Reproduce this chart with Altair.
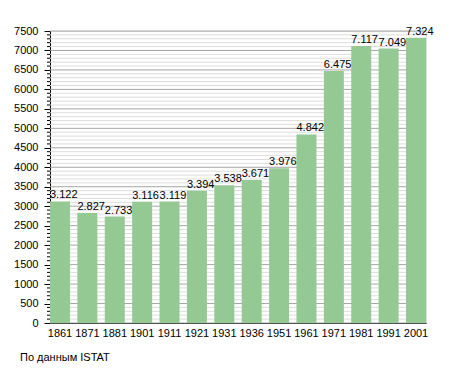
import altair as alt
import pandas as pd

years = ["1861", "1871", "1881", "1901", "1911", "1921", "1931", "1936", "1951", "1961", "1971", "1981", "1991", "2001"]
population = [3122, 2827, 2733, 3116, 3119, 3394, 3538, 3671, 3976, 4842, 6475, 7117, 7049, 7324]
labels = ["3.122", "2.827", "2.733", "3.116", "3.119", "3.394", "3.538", "3.671", "3.976", "4.842", "6.475", "7.117", "7.049", "7.324"]
major_ticks = list(range(0, 7501, 500))
minor_ticks = [v for v in range(0, 7501, 100) if v % 500 != 0]

df = pd.DataFrame({"year": years, "pop": population, "label": labels})
minor_df = pd.DataFrame({"v": minor_ticks})
major_df = pd.DataFrame({"v": major_ticks})

FONT = "Liberation Sans"
yscale = alt.Scale(domain=[0, 7500], nice=False)
xscale = alt.Scale(paddingInner=0.27, paddingOuter=0.0)
yaxis = alt.Axis(values=major_ticks, format="d", grid=False, domainColor="#000000",
                 tickColor="#000000", tickSize=6, labelFont=FONT, labelFontSize=11,
                 labelColor="#000000", labelPadding=6)
xaxis = alt.Axis(labelAngle=0, domainColor="#000000", ticks=False, labelFont=FONT,
                 labelFontSize=11, labelColor="#000000", labelPadding=4)

minor_grid = alt.Chart(minor_df).mark_rule(color="#dddddd", strokeWidth=1).encode(
    y=alt.Y("v:Q", scale=yscale, axis=yaxis, title=None)
)
major_grid = alt.Chart(major_df).mark_rule(color="#a6a6a6", strokeWidth=1).encode(
    y=alt.Y("v:Q", scale=yscale, axis=yaxis, title=None)
)
minor_tick = alt.Chart(minor_df).mark_rule(color="#000000", strokeWidth=1).encode(
    y=alt.Y("v:Q", scale=yscale, axis=yaxis, title=None),
    x=alt.value(-3), x2=alt.value(0)
)

bars = alt.Chart(df).mark_bar(color="#94c994").encode(
    x=alt.X("year:N", sort=years, scale=xscale, title=None, axis=xaxis),
    y=alt.Y("pop:Q", scale=yscale, title=None, axis=yaxis)
)

text = alt.Chart(df).mark_text(align="left", baseline="bottom", dy=-1, font=FONT,
                               fontSize=11, color="#000000").encode(
    x=alt.X("year:N", sort=years, scale=xscale, bandPosition=0, title=None, axis=xaxis),
    y=alt.Y("pop:Q", scale=yscale, title=None, axis=yaxis),
    text="label:N"
)

footer = alt.Chart(pd.DataFrame({"t": ["По данным  ISTAT"]})).mark_text(
    align="left", baseline="middle", font=FONT, fontSize=11, color="#000000"
).encode(x=alt.value(-30), y=alt.value(327), text="t:N")

chart = alt.layer(minor_grid, major_grid, minor_tick, bars, text, footer).properties(
    width=376, height=292,
    autosize=alt.AutoSizeParams(type="none"),
    padding={"left": 42, "top": 23, "right": 21, "bottom": 42},
).configure_view(stroke=None).configure(background="#ffffff")

chart.save("out.html", embed_options={"renderer": "svg", "actions": False})
